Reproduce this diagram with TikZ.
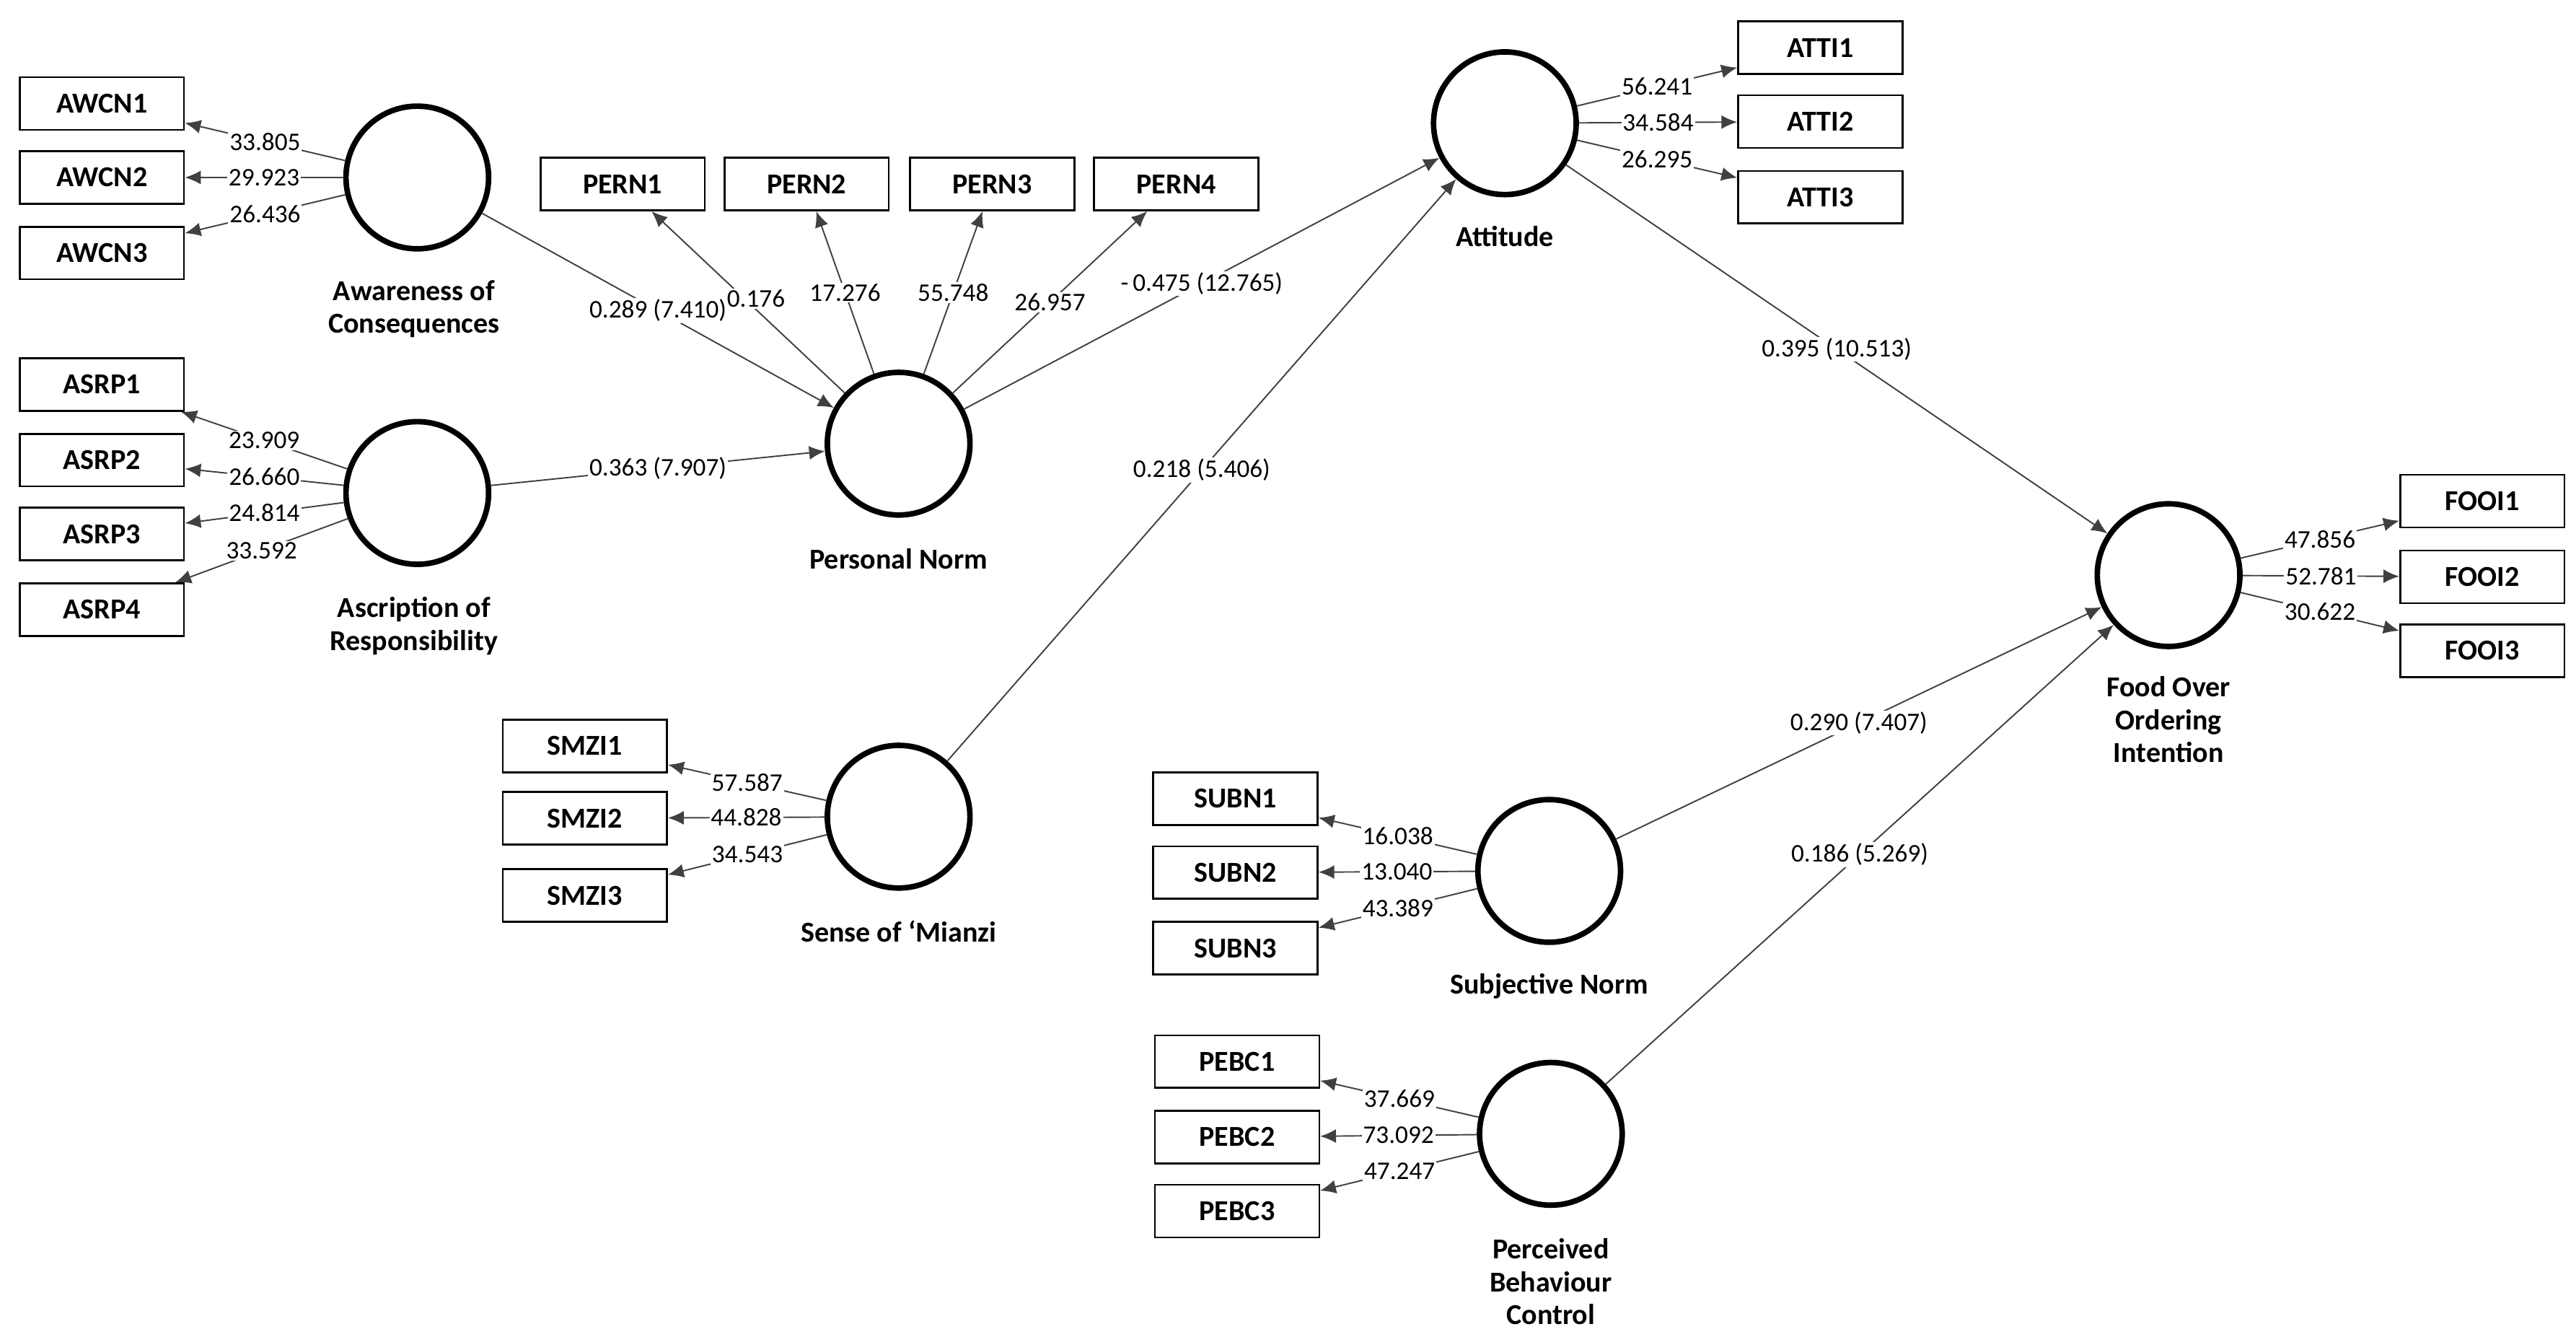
\documentclass[tikz,border=0pt]{standalone}
\usepackage{fontspec}
\setmainfont{Carlito}
\usetikzlibrary{arrows.meta}
\tikzset{
  latent/.style={circle,draw=black,line width=2.4pt,minimum size=2.17cm,inner sep=0pt},
  item/.style={rectangle,draw=black,line width=0.8pt,minimum width=2.5cm,minimum height=0.8cm,inner sep=1pt,font=\bfseries\fontsize{12.5}{14}\selectfont},
  load/.style={-{Latex[length=2.4mm,width=2.1mm]},line width=0.6pt,draw=black!75},
  val/.style={fill=white,inner sep=0.6pt,font=\fontsize{11}{12}\selectfont},
  cname/.style={align=center,font=\bfseries\fontsize{12.5}{14.2}\selectfont}
}
\begin{document}
\begin{tikzpicture}[x=0.025cm,y=-0.025cm]
\useasboundingbox (0,0) rectangle (1568,813.6);
% constructs
\node[latent] (awc) at (254,108) {};
\node[cname] (awcname) at (252,188) {Awareness of\\Consequences};
\node[latent] (asr) at (254,300) {};
\node[cname] (asrname) at (252,381) {Ascription of\\Responsibility};
\node[latent] (pn) at (547,270) {};
\node[cname] (pnname) at (547,340) {Personal Norm};
\node[latent] (smz) at (547,497) {};
\node[cname] (smzname) at (547,567) {Sense of ‘Mianzi};
\node[latent] (att) at (916,75) {};
\node[cname] (attname) at (916,144) {Attitude};
\node[latent] (fooi) at (1320,350) {};
\node[cname] (fooiname) at (1320,438) {Food Over\\Ordering\\Intention};
\node[latent] (subn) at (943,530) {};
\node[cname] (subnname) at (943,600) {Subjective Norm};
\node[latent] (pebc) at (944,690) {};
\node[cname] (pebcname) at (944,780) {Perceived\\Behaviour\\Control};
% indicators
\node[item] (awcn1) at (62,63) {AWCN1};
\node[item] (awcn2) at (62,108) {AWCN2};
\node[item] (awcn3) at (62,154) {AWCN3};
\node[item] (asrp1) at (62,234) {ASRP1};
\node[item] (asrp2) at (62,280) {ASRP2};
\node[item] (asrp3) at (62,325) {ASRP3};
\node[item] (asrp4) at (62,371) {ASRP4};
\node[item] (pern1) at (379,112) {PERN1};
\node[item] (pern2) at (491,112) {PERN2};
\node[item] (pern3) at (604,112) {PERN3};
\node[item] (pern4) at (716,112) {PERN4};
\node[item] (smzi1) at (356,454) {SMZI1};
\node[item] (smzi2) at (356,498) {SMZI2};
\node[item] (smzi3) at (356,545) {SMZI3};
\node[item] (atti1) at (1108,29) {ATTI1};
\node[item] (atti2) at (1108,74) {ATTI2};
\node[item] (atti3) at (1108,120) {ATTI3};
\node[item] (fooi1) at (1511,305) {FOOI1};
\node[item] (fooi2) at (1511,351) {FOOI2};
\node[item] (fooi3) at (1511,396) {FOOI3};
\node[item] (subn1) at (752,486) {SUBN1};
\node[item] (subn2) at (752,531) {SUBN2};
\node[item] (subn3) at (752,577) {SUBN3};
\node[item] (pebc1) at (753,646) {PEBC1};
\node[item] (pebc2) at (753,692) {PEBC2};
\node[item] (pebc3) at (753,737) {PEBC3};
% paths
\draw[load] (awc)--node[val] {0.289 (7.410)} (pn);
\draw[load] (asr)--node[val] {0.363 (7.907)} (pn);
\draw[load] (pn)--node[val] {-\,0.475 (12.765)} (att);
\draw[load] (smz)--node[val] {0.218 (5.406)} (att);
\draw[load] (att)--node[val] {0.395 (10.513)} (fooi);
\draw[load] (subn)--node[val] {0.290 (7.407)} (fooi);
\draw[load] (pebc)--node[val] {0.186 (5.269)} (fooi);
% loadings
\draw[load] (awc)--node[val] {33.805} (awcn1);
\draw[load] (awc)--node[val] {29.923} (awcn2);
\draw[load] (awc)--node[val] {26.436} (awcn3);
\draw[load] (asr)--node[val] {23.909} (asrp1);
\draw[load] (asr)--node[val] {26.660} (asrp2);
\draw[load] (asr)--node[val] {24.814} (asrp3);
\draw[load] (asr)--node[val] {33.592} (asrp4);
\draw[load] (pn)--node[val,xshift=0.12cm,yshift=0.05cm] {0.176} (pern1);
\draw[load] (pn)--node[val] {17.276} (pern2);
\draw[load] (pn)--node[val] {55.748} (pern3);
\draw[load] (pn)--node[val] {26.957} (pern4);
\draw[load] (smz)--node[val] {57.587} (smzi1);
\draw[load] (smz)--node[val] {44.828} (smzi2);
\draw[load] (smz)--node[val] {34.543} (smzi3);
\draw[load] (att)--node[val] {56.241} (atti1);
\draw[load] (att)--node[val] {34.584} (atti2);
\draw[load] (att)--node[val] {26.295} (atti3);
\draw[load] (fooi)--node[val] {47.856} (fooi1);
\draw[load] (fooi)--node[val] {52.781} (fooi2);
\draw[load] (fooi)--node[val] {30.622} (fooi3);
\draw[load] (subn)--node[val] {16.038} (subn1);
\draw[load] (subn)--node[val] {13.040} (subn2);
\draw[load] (subn)--node[val] {43.389} (subn3);
\draw[load] (pebc)--node[val] {37.669} (pebc1);
\draw[load] (pebc)--node[val] {73.092} (pebc2);
\draw[load] (pebc)--node[val] {47.247} (pebc3);
\end{tikzpicture}
\end{document}
